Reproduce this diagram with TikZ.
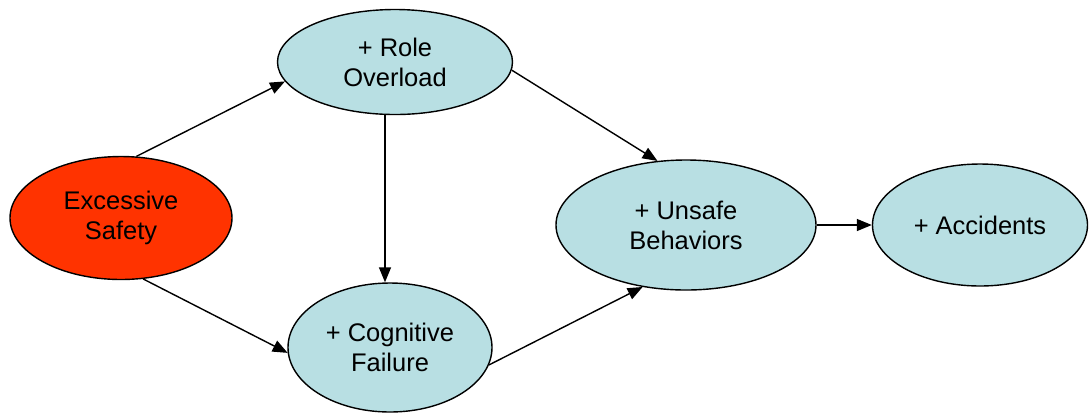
\documentclass[tikz,border=0pt]{standalone}
\usepackage{fontspec}
\setmainfont{Liberation Sans}
\usetikzlibrary{shapes.geometric,arrows.meta}
\definecolor{paleblue}{HTML}{B8DFE3}
\definecolor{alarmred}{HTML}{FF3300}
\begin{document}
\begin{tikzpicture}[
    factor/.style={ellipse, draw, line width=0.8pt, fill=paleblue, inner sep=0pt,
      align=center, font=\fontsize{14.5}{17}\selectfont},
    arr/.style={-{Triangle[length=8.5pt,width=6.8pt]}, line width=0.8pt}
  ]
    \useasboundingbox (0,0) rectangle (21.82,-8.36);
    % Facteurs
    \node[factor, fill=alarmred, minimum width=4.44cm, minimum height=2.46cm] (safety) at (2.42,-4.36) {Excessive\\Safety};
    \node[factor, minimum width=4.7cm, minimum height=2.1cm] (overload) at (7.9,-1.24) {+ Role\\Overload};
    \node[factor, minimum width=4.08cm, minimum height=2.58cm] (cognitive) at (7.8,-6.95) {+ Cognitive\\Failure};
    \node[factor, minimum width=5.2cm, minimum height=2.6cm] (unsafe) at (13.72,-4.5) {+ Unsafe\\Behaviors};
    \node[factor, minimum width=4.3cm, minimum height=2.44cm] (accidents) at (19.6,-4.5) {+ Accidents};

    % Liens
    \draw[arr] (safety.76) -- (overload.190);
    \draw[arr] (safety.-70) -- (cognitive.183);
    \draw[arr] ([xshift=-0.2cm]overload.south) -- ([xshift=-0.1cm]cognitive.north);
    \draw[arr] (overload.-4) -- (unsafe.114);
    \draw[arr] (cognitive.-10) -- (unsafe.235);
    \draw[arr] (unsafe) -- (accidents);
\end{tikzpicture}
\end{document}
